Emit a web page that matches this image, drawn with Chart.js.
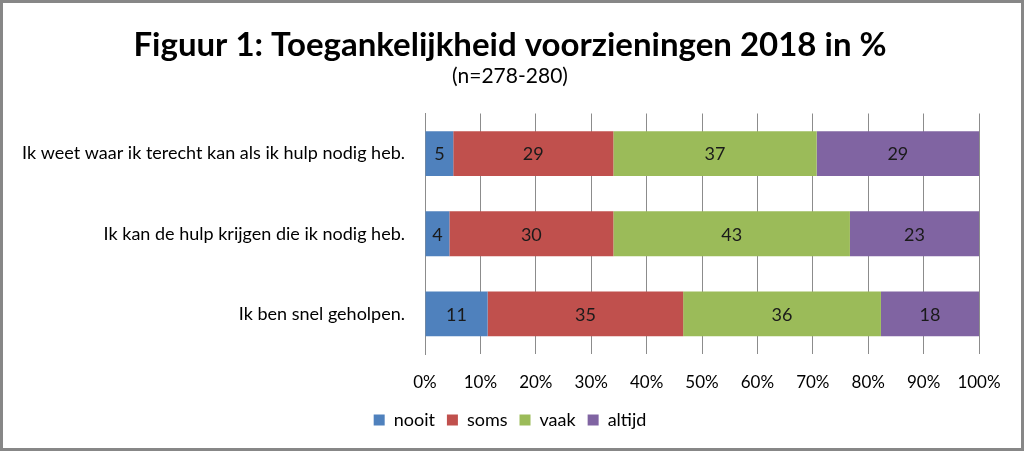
<!DOCTYPE html>
<html>
<head>
<meta charset="utf-8">
<script src="https://cdn.jsdelivr.net/npm/chart.js@4/dist/chart.umd.min.js"></script>
<style>
  html, body { margin: 0; padding: 0; background: #fff; }
  #wrap { width: 1024px; height: 451px; }
</style>
</head>
<body>
<div id="wrap"><canvas id="chart" width="1024" height="451"></canvas></div>
<script>
const categories = [
    'Ik weet waar ik terecht kan als ik hulp nodig heb.',
    'Ik kan de hulp krijgen die ik nodig heb.',
    'Ik ben snel geholpen.'
];
const seriesNames = ['nooit', 'soms', 'vaak', 'altijd'];
const nooit = [5.1, 4.4, 11.3];
const soms = [28.9, 29.6, 35.3];
const vaak = [36.7, 42.7, 35.7];
const altijd = [29.3, 23.3, 17.7];
const colors = ['#4f81bd', '#c0504d', '#9bbb59', '#8064a2'];
const tickValues = [0, 10, 20, 30, 40, 50, 60, 70, 80, 90, 100];

const FONT = 'Lato, "Open Sans", sans-serif';

// labels in the middle of each segment + grey frame round the picture
const extras = {
    id: 'extras',
    beforeDraw(chart) {
        const c = chart.ctx;
        c.save();
        c.fillStyle = '#ffffff';
        c.fillRect(0, 0, chart.width, chart.height);
        c.restore();
    },
    afterDatasetsDraw(chart) {
        const c = chart.ctx;
        c.save();
        c.font = '18px ' + FONT;
        c.fillStyle = '#1a1a1a';
        c.textAlign = 'center';
        c.textBaseline = 'middle';
        chart.data.datasets.forEach((ds, i) => {
            chart.getDatasetMeta(i).data.forEach((bar, j) => {
                const mid = (bar.x + bar.base) / 2;
                c.fillText(Math.round(ds.data[j]), mid, bar.y + 1);
            });
        });
        c.restore();
    },
    afterDraw(chart) {
        const c = chart.ctx;
        c.save();
        c.strokeStyle = '#878787';
        c.lineWidth = 3;
        c.strokeRect(1.5, 1.5, chart.width - 3, chart.height - 3);
        c.restore();
    }
};

const seriesData = [nooit, soms, vaak, altijd];

new Chart(document.getElementById('chart'), {
    type: 'bar',
    data: {
        labels: categories,
        datasets: seriesNames.map((name, i) => ({
            label: name,
            data: seriesData[i],
            backgroundColor: colors[i],
            borderWidth: 0,
            categoryPercentage: 1,
            barPercentage: 0.56
        }))
    },
    options: {
        indexAxis: 'y',
        responsive: false,
        animation: false,
        layout: { padding: { left: 10, right: 14, top: 0, bottom: 12 } },
        plugins: {
            title: {
                display: true,
                text: 'Figuur 1: Toegankelijkheid voorzieningen 2018 in %',
                color: '#000',
                font: { family: FONT, size: 33, weight: 'bold', lineHeight: 1.1 },
                padding: { top: 27, bottom: 0 }
            },
            subtitle: {
                display: true,
                text: '(n=278-280)',
                color: '#000',
                font: { family: FONT, size: 21, lineHeight: 1.2 },
                padding: { top: 0, bottom: 25 }
            },
            legend: {
                position: 'bottom',
                labels: {
                    color: '#000',
                    font: { family: FONT, size: 18 },
                    boxWidth: 11,
                    boxHeight: 11,
                    padding: 12
                }
            },
            tooltip: { enabled: false }
        },
        scales: {
            x: {
                stacked: true,
                min: 0,
                max: 100,
                afterBuildTicks(scale) {
                    scale.ticks = tickValues.map(v => ({ value: v }));
                },
                afterFit(scale) { scale.height = 45; },
                ticks: {
                    color: '#000',
                    font: { family: FONT, size: 17 },
                    padding: 18,
                    callback: v => v + '%'
                },
                grid: { color: '#8c8c8c', lineWidth: 1, drawTicks: false },
                border: { display: false }
            },
            y: {
                stacked: true,
                afterFit(scale) { scale.width = 415; },
                ticks: {
                    color: '#000',
                    font: { family: FONT, size: 18 },
                    padding: 20
                },
                grid: { display: false, drawTicks: false },
                border: { display: true, color: '#8c8c8c', width: 1 }
            },
            // empty axis on the right, only to keep the plot clear of the frame
            yRight: {
                position: 'right',
                afterFit(scale) { scale.width = 31; },
                ticks: { display: false },
                grid: { display: false, drawTicks: false },
                border: { display: false }
            }
        }
    },
    plugins: [extras]
});
</script>
</body>
</html>
